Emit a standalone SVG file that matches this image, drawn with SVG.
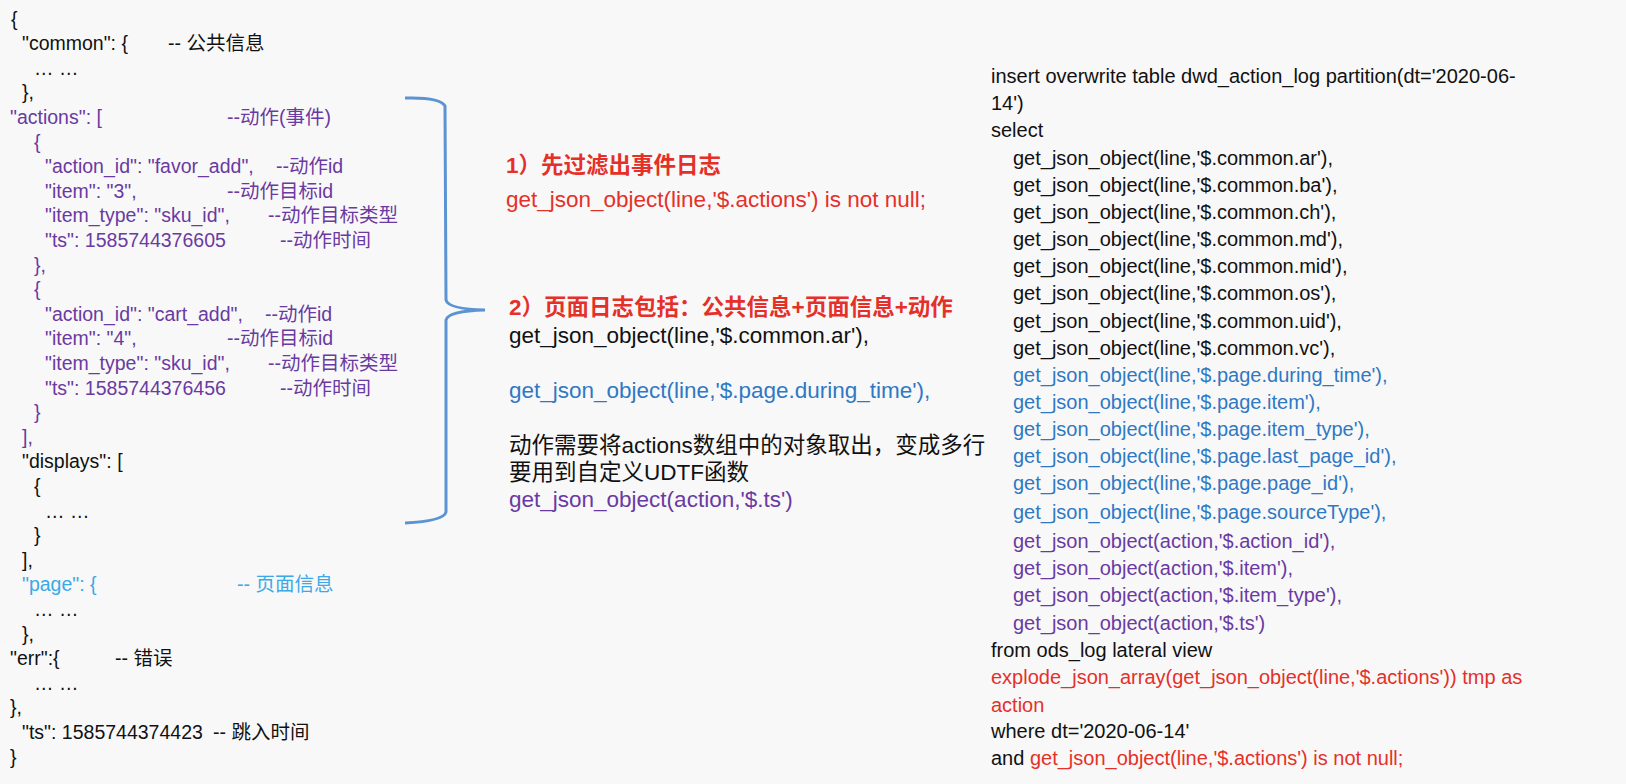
<svg xmlns="http://www.w3.org/2000/svg" width="1626" height="784" viewBox="0 0 1626 784">
<style>
text{font-family:"Liberation Sans","Noto Sans CJK SC",sans-serif;font-size:19.5px;fill:#111}
.m{font-size:22.5px}.s{font-size:20px}
.p{fill:#6a3aa2}.b{fill:#2f78c4}.lb{fill:#3aa9e6}.r{fill:#e5302a}.bold{font-weight:bold}
</style>
<rect width="1626" height="784" fill="#f8f8f8"/>
<g id="json">
<text x="11" y="26">{</text>
<text x="22" y="50">"common": {</text><text x="168" y="50">-- 公共信息</text>
<text x="34" y="75">… …</text>
<text x="22" y="99">},</text>
<text class="p" x="10" y="124">"actions": [</text><text class="p" x="227" y="124">--动作(事件)</text>
<text class="p" x="34" y="149">{</text>
<text class="p" x="45" y="173">"action_id": "favor_add",</text><text class="p" x="276" y="173">--动作id</text>
<text class="p" x="45" y="198">"item": "3",</text><text class="p" x="227" y="198">--动作目标id</text>
<text class="p" x="45" y="222">"item_type": "sku_id",</text><text class="p" x="268" y="222">--动作目标类型</text>
<text class="p" x="45" y="247">"ts": 1585744376605</text><text class="p" x="280" y="247">--动作时间</text>
<text class="p" x="34" y="272">},</text>
<text class="p" x="34" y="296">{</text>
<text class="p" x="45" y="321">"action_id": "cart_add",</text><text class="p" x="265" y="321">--动作id</text>
<text class="p" x="45" y="345">"item": "4",</text><text class="p" x="227" y="345">--动作目标id</text>
<text class="p" x="45" y="370">"item_type": "sku_id",</text><text class="p" x="268" y="370">--动作目标类型</text>
<text class="p" x="45" y="395">"ts": 1585744376456</text><text class="p" x="280" y="395">--动作时间</text>
<text class="p" x="34" y="419">}</text>
<text class="p" x="22" y="444">],</text>
<text x="22" y="468">"displays": [</text>
<text x="34" y="493">{</text>
<text x="45" y="518">… …</text>
<text x="34" y="542">}</text>
<text x="22" y="567">],</text>
<text class="lb" x="22" y="591">"page": {</text><text class="lb" x="237" y="591">-- 页面信息</text>
<text x="34" y="616">… …</text>
<text x="22" y="641">},</text>
<text x="10" y="665">"err":{</text><text x="115" y="665">-- 错误</text>
<text x="34" y="690">… …</text>
<text x="10" y="714">},</text>
<text x="22" y="739">"ts": 1585744374423</text><text x="213" y="739">-- 跳入时间</text>
<text x="10" y="764">}</text>
</g>
<g id="connectors">
<path d="M405 98 Q440 97 445 106 L446 300 Q448 309 485 310 Q448 311 446 320 L446 512 Q444 521 405 523" fill="none" stroke="#5b93d3" stroke-width="3"/>
</g>
<g id="middle">
<text class="m r bold" x="506" y="173">1）先过滤出事件日志</text>
<text class="m r" x="506" y="207">get_json_object(line,'$.actions') is not null;</text>
<text class="m r bold" x="509" y="315">2）页面日志包括：公共信息+页面信息+动作</text>
<text class="m" x="509" y="343">get_json_object(line,'$.common.ar'),</text>
<text class="m b" x="509" y="398">get_json_object(line,'$.page.during_time'),</text>
<text class="m" x="509" y="453">动作需要将actions数组中的对象取出，变成多行</text>
<text class="m" x="509" y="480">要用到自定义UDTF函数</text>
<text class="m p" x="509" y="507">get_json_object(action,'$.ts')</text>
</g>
<g id="sql">
<text class="s" x="991" y="83">insert overwrite table dwd_action_log partition(dt='2020-06-</text>
<text class="s" x="991" y="110">14')</text>
<text class="s" x="991" y="137">select</text>
<text class="s" x="1013" y="165">get_json_object(line,'$.common.ar'),</text>
<text class="s" x="1013" y="192">get_json_object(line,'$.common.ba'),</text>
<text class="s" x="1013" y="219">get_json_object(line,'$.common.ch'),</text>
<text class="s" x="1013" y="246">get_json_object(line,'$.common.md'),</text>
<text class="s" x="1013" y="273">get_json_object(line,'$.common.mid'),</text>
<text class="s" x="1013" y="300">get_json_object(line,'$.common.os'),</text>
<text class="s" x="1013" y="328">get_json_object(line,'$.common.uid'),</text>
<text class="s" x="1013" y="355">get_json_object(line,'$.common.vc'),</text>
<text class="s b" x="1013" y="382">get_json_object(line,'$.page.during_time'),</text>
<text class="s b" x="1013" y="409">get_json_object(line,'$.page.item'),</text>
<text class="s b" x="1013" y="436">get_json_object(line,'$.page.item_type'),</text>
<text class="s b" x="1013" y="463">get_json_object(line,'$.page.last_page_id'),</text>
<text class="s b" x="1013" y="490">get_json_object(line,'$.page.page_id'),</text>
<text class="s b" x="1013" y="519">get_json_object(line,'$.page.sourceType'),</text>
<text class="s p" x="1013" y="548">get_json_object(action,'$.action_id'),</text>
<text class="s p" x="1013" y="575">get_json_object(action,'$.item'),</text>
<text class="s p" x="1013" y="602">get_json_object(action,'$.item_type'),</text>
<text class="s p" x="1013" y="630">get_json_object(action,'$.ts')</text>
<text class="s" x="991" y="657">from ods_log lateral view</text>
<text class="s r" x="991" y="684">explode_json_array(get_json_object(line,'$.actions')) tmp as</text>
<text class="s r" x="991" y="712">action</text>
<text class="s" x="991" y="738">where dt='2020-06-14'</text>
<text class="s" x="991" y="765">and <tspan class="r">get_json_object(line,'$.actions') is not null;</tspan></text>
</g>
</svg>
